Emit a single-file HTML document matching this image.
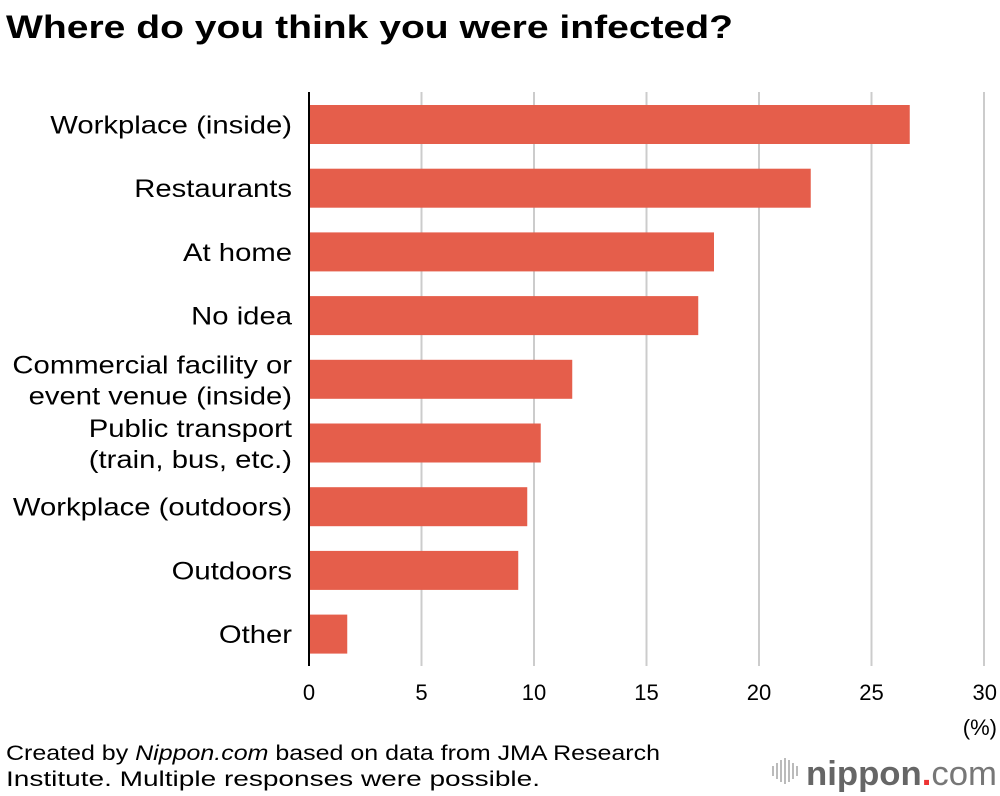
<!DOCTYPE html>
<html><head><meta charset="utf-8"><style>
body{margin:0;background:#fff;font-family:"Liberation Sans",sans-serif;}
#wrap{position:relative;width:1000px;height:796px;overflow:hidden;}
</style></head><body>
<div id="wrap">
<svg id="svg" width="1000" height="796" xmlns="http://www.w3.org/2000/svg">
<text x="6" y="38" font-size="32" font-weight="bold" fill="#000" textLength="727" lengthAdjust="spacingAndGlyphs">Where do you think you were infected?</text>
<g id="grid"></g><g id="bars"></g><g id="labels"></g><g id="ticks"></g>
<text x="997" y="735" font-size="22" text-anchor="end">(%)</text>
<text x="6" y="760" font-size="21" textLength="654" lengthAdjust="spacingAndGlyphs">Created by <tspan font-style="italic">Nippon.com</tspan> based on data from JMA Research</text>
<text x="6" y="786" font-size="21" textLength="534" lengthAdjust="spacingAndGlyphs">Institute. Multiple responses were possible.</text>
<g fill="#bbb">
<rect x="772" y="766" width="2" height="10"/><rect x="776" y="763" width="2" height="16"/><rect x="780" y="760" width="2" height="22"/><rect x="784" y="758" width="2" height="26"/><rect x="788" y="760" width="2" height="22"/><rect x="792" y="763" width="2" height="16"/><rect x="796" y="766" width="2" height="10"/>
<text x="806" y="785" font-size="34" fill="#666" font-weight="bold" textLength="191" lengthAdjust="spacingAndGlyphs">nippon<tspan fill="#e33">.</tspan><tspan fill="#777" font-weight="normal">com</tspan></text>
</g>
</svg>
</div>
<script>
const categories=["Workplace (inside)","Restaurants","At home","No idea","Commercial facility or|event venue (inside)","Public transport|(train, bus, etc.)","Workplace (outdoors)","Outdoors","Other"];
const values=[26.7,22.3,18.0,17.3,11.7,10.3,9.7,9.3,1.7];
const tickLabels=[0,5,10,15,20,25,30];
const NS="http://www.w3.org/2000/svg";
const x0=309,x1=984,xmax=30;
const xs=v=>x0+(x1-x0)*v/xmax;
const yTop=105,pitch=63.7,bh=39;
function mk(t,a,p){const e=document.createElementNS(NS,t);for(const k in a)e.setAttribute(k,a[k]);p.appendChild(e);return e;}
const grid=document.getElementById('grid'),bars=document.getElementById('bars'),labels=document.getElementById('labels'),ticks=document.getElementById('ticks');
tickLabels.forEach(t=>{
 if(t>0){const l=mk('line',{x1:xs(t),x2:xs(t),y1:92,y2:666,stroke:'#ccc','stroke-width':2},grid);
 
 }
 const tx=mk('text',{x:xs(t),y:700,'font-size':22,'text-anchor':t==30?'end':'middle'},ticks);
 if(t==30)tx.setAttribute('x',xs(t)+13);
 tx.textContent=t;
 
 
});
const ax=mk('line',{x1:x0,x2:x0,y1:92,y2:666,stroke:'#000','stroke-width':2},grid);


categories.forEach((c,i)=>{
 const y=yTop+i*pitch;
 const r=mk('rect',{x:x0+1,y:y,width:xs(values[i])-x0-1,height:bh,fill:'#e55e4b'},bars);
 
 
 const parts=c.split('|');
 parts.forEach((p,j)=>{
  const yy=parts.length==1?y+bh/2+9:y+bh/2-6+j*31;
  const t=mk('text',{x:292,y:yy,'font-size':25,'text-anchor':'end'},labels);
  t.textContent=p;
  
  
  const w=t.getComputedTextLength();
  t.setAttribute('textLength',w*1.17);
  t.setAttribute('lengthAdjust','spacingAndGlyphs');
 });
});
</script>
</body></html>
